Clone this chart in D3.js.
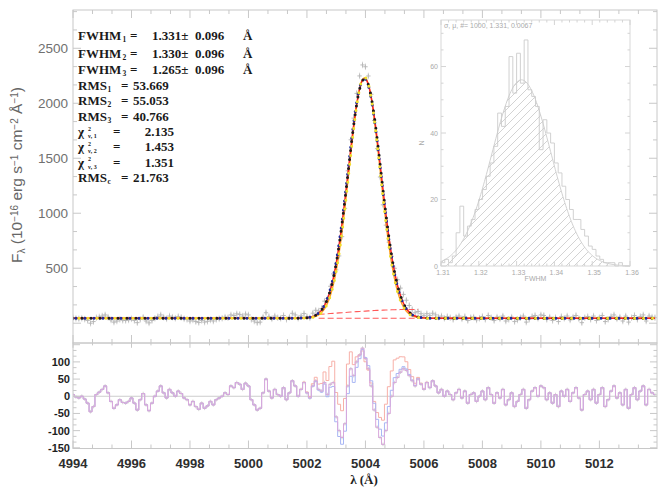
<!DOCTYPE html>
<html><head><meta charset="utf-8">
<script src="https://cdn.jsdelivr.net/npm/d3@7"></script>
<style>body{margin:0;background:#fff}svg{display:block}</style>
</head><body><svg id="c" width="661" height="487"></svg>
<script>
// ---------------- data ----------------
const lambdaStart = 4994.0, lambdaStep = 0.1;   // wavelength sampling (Å)
// residual of fit 1 (data - model 1)
const residual1 = [
 5,-2,-5,0,-8,-20,-45,-30,5,12,
 20,30,10,-15,-35,-25,-10,-18,-20,-15,
 -5,-20,-40,-10,8,-25,-42,-20,0,15,
 30,10,-5,20,10,0,15,8,-5,-10,
 -25,-15,-30,-38,-20,-35,-28,-15,-25,-10,
 -5,0,10,5,30,25,40,35,20,38,
 30,-10,-25,-40,-35,10,50,15,-5,20,
 5,0,25,-10,10,45,30,0,20,40,
 10,-5,30,45,20,15,40,5,35,40,
 -60,-100,-120,-80,30,80,60,100,120,140,
 110,80,30,-40,-90,-120,-140,-100,-50,0,
 40,55,70,80,75,60,45,30,50,35,
 20,40,25,45,30,10,20,0,15,5,
 -10,10,20,-5,15,-20,5,10,-15,0,
 15,-10,25,5,-20,10,-5,20,-25,-10,
 10,-30,-15,5,20,-35,-10,15,25,0,
 30,25,-10,10,-20,5,-30,15,0,20,
 -15,10,25,-5,-40,5,15,-10,20,-20,
 5,25,-30,-10,15,30,-5,10,-25,20,
 -35,5,25,-10,15,30,-25,20,10,5];
// gaussian fit parameters of the three fits
const fitFwhm   = [1.331, 1.330, 1.265];
const fitCenter = [5003.97, 5003.96, 5003.97];
const fitAmp    = [2180, 2180, 2190];
const continuum = 45;
// components drawn dashed
const compAmp = [0, 80], compCenter = [5005.6, 5005.6], compSigma = [2.5, 2.5];
const compRange = [5002.4, 5005.8];
// axis ticks
const xTickLabels = [4994,4996,4998,5000,5002,5004,5006,5008,5010,5012];
const yMainLabels = [500,1000,1500,2000,2500];
const yResLabels  = [-150,-100,-50,0,50,100];
// inset histogram of FWHM (bin 0.001 starting at 1.310)
const histStart = 1.310, histBin = 0.001;
const histCounts = [1,2,1,3,10,18,9,12,14,17,20,23,27,31,36,46,42,48,63,52,64,55,68,53,51,48,35,44,40,37,31,28,24,20,17,14,14,11,9,6,5,3,2,1,1,1,0,1,0,0];
const histFit = {amp: 56, mean: 1.3313, sigma: 0.0078};
const insetXLabels = [1.31,1.32,1.33,1.34,1.35,1.36];
const insetYLabels = [0,20,40,60];
const insetTitle = "σ, μ, #=  1000,  1.331,  0.0067";
// statistics text
const fwhmVals = ["1.331","1.330","1.265"], fwhmErr = ["0.096","0.096","0.096"];
const rmsVals = ["53.669","55.053","40.766"];
const chiVals = ["2.135","1.453","1.351"];
const rmsC = "21.763";

// ---------------- drawing ----------------
const svg = d3.select("#c");
const frameCol = "#c8c8c8";
const L = 73, R = 657, T = 10, MB = 343, RB = 448.5;
const x  = d3.scaleLinear().domain([4994, 5013.97]).range([L, R]);
const yM = d3.scaleLinear().domain([-180, 2848]).range([MB, T]);
const yR = d3.scaleLinear().domain([-152, 155]).range([RB, MB]);

const lam = d3.range(residual1.length).map(i => +(lambdaStart + i*lambdaStep).toFixed(2));
function model(k, l){
  const s = fitFwhm[k]/(2*Math.sqrt(2*Math.LN2));
  return continuum + fitAmp[k]*Math.exp(-0.5*((l-fitCenter[k])/s)**2);
}
const m = [0,1,2].map(k => lam.map(l => model(k,l)));
const obs = lam.map((l,i) => m[0][i] + residual1[i]);
const res = [0,1,2].map(k => obs.map((o,i) => o - m[k][i]));

const defs = svg.append("defs");
defs.append("clipPath").attr("id","cm").append("rect").attr("x",L).attr("y",T).attr("width",R-L).attr("height",MB-T);
defs.append("clipPath").attr("id","cr").append("rect").attr("x",L).attr("y",MB).attr("width",R-L).attr("height",RB-MB);

// ---- inset (drawn first, light grey) ----
const IL=441, IR=630, IT=20, IB=266;
const ix = d3.scaleLinear().domain([1.31,1.36]).range([IL,IR]);
const iy = d3.scaleLinear().domain([0,74]).range([IB,IT]);
const ig = svg.append("g");
const pat = defs.append("pattern").attr("id","hatch").attr("patternUnits","userSpaceOnUse").attr("width",8).attr("height",8);
pat.append("path").attr("d","M-2,2 l4,-4 M0,8 l8,-8 M6,10 l4,-4").attr("stroke","#c8c8c8").attr("stroke-width",0.8);
const gx = d3.range(0,201).map(k => 1.31 + k*0.00025);
const gauss = v => histFit.amp*Math.exp(-0.5*((v-histFit.mean)/histFit.sigma)**2);
ig.append("path").datum(gx).attr("d", d3.area().x(d=>ix(d)).y0(iy(0)).y1(d=>iy(gauss(d))))
  .attr("fill","url(#hatch)");
ig.append("path").datum(gx).attr("d", d3.line().x(d=>ix(d)).y(d=>iy(gauss(d))))
  .attr("fill","none").attr("stroke","#cccccc").attr("stroke-width",0.9);
let hp = `M${ix(histStart)},${iy(0)}`;
histCounts.forEach((c,i)=>{ hp += `V${iy(c)}H${ix(histStart+(i+1)*histBin)}`; });
hp += `V${iy(0)}`;
ig.append("path").attr("d",hp).attr("fill","none").attr("stroke","#cccccc").attr("stroke-width",0.9);
ig.append("rect").attr("x",IL).attr("y",IT).attr("width",IR-IL).attr("height",IB-IT).attr("fill","none").attr("stroke","#d8d8d8");
d3.range(0,26).map(k=>1.31+k*0.002).forEach((v,k)=>{
  const len = k%5===0?5:2.5;
  ig.append("line").attr("x1",ix(v)).attr("x2",ix(v)).attr("y1",IB).attr("y2",IB-len).attr("stroke","#d4d4d4");
  ig.append("line").attr("x1",ix(v)).attr("x2",ix(v)).attr("y1",IT).attr("y2",IT+len).attr("stroke","#d4d4d4");
});
d3.range(0,15).map(k=>k*5).forEach((v,k)=>{
  const len = k%4===0?5:2.5;
  ig.append("line").attr("y1",iy(v)).attr("y2",iy(v)).attr("x1",IL).attr("x2",IL+len).attr("stroke","#d4d4d4");
  ig.append("line").attr("y1",iy(v)).attr("y2",iy(v)).attr("x1",IR).attr("x2",IR-len).attr("stroke","#d4d4d4");
});
const ifont = {"font-family":"Liberation Sans, sans-serif","font-size":"7px","fill":"#aaaaaa"};
function sty(sel, o){ Object.entries(o).forEach(([k,v])=>sel.attr(k,v)); return sel; }
insetXLabels.forEach(v=>sty(ig.append("text"),ifont).attr("x",ix(v)+2).attr("y",IB+9).attr("text-anchor","middle").text(v.toFixed(2)));
insetYLabels.forEach(v=>sty(ig.append("text"),ifont).attr("x",IL-3).attr("y",iy(v)+2.5).attr("text-anchor","end").text(v));
sty(ig.append("text"),ifont).attr("x",(IL+IR)/2).attr("y",IB+15).attr("text-anchor","middle").text("FWHM");
sty(ig.append("text"),ifont).attr("transform",`translate(424,${(IT+IB)/2}) rotate(-90)`).attr("text-anchor","middle").text("N");
sty(ig.append("text"),ifont).attr("x",IL+3).attr("y",IT+8).text(insetTitle);

// ---- main panel ----
const mg = svg.append("g").attr("clip-path","url(#cm)");
// data points (grey crosses with error bars)
const cross = (g, px, py, s, col) => g.append("path").attr("d",`M${px-s},${py}H${px+s}M${px},${py-s}V${py+s}`).attr("stroke",col).attr("stroke-width",0.8);
lam.forEach((l,i)=>{ cross(mg, x(l), yM(obs[i]), 2.2, "#a9a9a9");
  mg.append("line").attr("x1",x(l)).attr("x2",x(l)).attr("y1",yM(obs[i]-30)).attr("y2",yM(obs[i]+30)).attr("stroke","#bdbdbd").attr("stroke-width",0.6); });
// dashed components
const cl = d3.range(0,35).map(k=>compRange[0]+k*0.1).filter(v=>v<=compRange[1]+1e-9);
[0,1].forEach(j=>{
  mg.append("path").datum(cl).attr("d", d3.line().x(d=>x(d)).y(d=>yM(continuum + compAmp[j]*Math.exp(-0.5*((d-compCenter[j])/compSigma[j])**2))))
   .attr("fill","none").attr("stroke","#ff5a5a").attr("stroke-width",1.1).attr("stroke-dasharray","6,3");
});
const ln = d3.line().x((d,i)=>x(lam[i])).y(d=>yM(d)).curve(d3.curveCatmullRom);
mg.append("path").datum(m[2]).attr("d",ln).attr("fill","none").attr("stroke","#ffa020").attr("stroke-width",1.3);
mg.append("path").datum(m[0]).attr("d",ln).attr("fill","none").attr("stroke","#ff2020").attr("stroke-width",1.5);
// dotted model curves
const dotted = [[m[0],"#1c1c1c",0],[m[1],"#1e2a9a",3],[m[2],"#f0df2a",6]];
dotted.forEach(([d,col,off])=>{
  mg.append("path").datum(d).attr("d",ln).attr("fill","none").attr("stroke",col).attr("stroke-width",3)
    .attr("stroke-linecap","round").attr("stroke-dasharray","0,9").attr("stroke-dashoffset",-off);
});

// ---- residual panel ----
const rg = svg.append("g").attr("clip-path","url(#cr)");
rg.append("line").attr("x1",L).attr("x2",R).attr("y1",yR(0)).attr("y2",yR(0)).attr("stroke","#c0c0c0").attr("stroke-width",0.8);
lam.forEach((l,i)=>{ cross(rg, x(l), yR(res[0][i]), 1.8, "#c8c8c8"); });
const rl = d3.line().x((d,i)=>x(lam[i])).y(d=>yR(d)).curve(d3.curveStep);
rg.append("path").datum(res[2]).attr("d",rl).attr("fill","none").attr("stroke","#f7b0a8").attr("stroke-width",1);
rg.append("path").datum(res[1]).attr("d",rl).attr("fill","none").attr("stroke","#a8b6f4").attr("stroke-width",1);
rg.append("path").datum(res[0]).attr("d",rl).attr("fill","none").attr("stroke","#d9a8dc").attr("stroke-width",1);

// ---- frames and ticks ----
const fg = svg.append("g").attr("stroke",frameCol).attr("stroke-width",1).attr("fill","none");
fg.append("rect").attr("x",L).attr("y",T).attr("width",R-L).attr("height",MB-T);
fg.append("rect").attr("x",L).attr("y",MB).attr("width",R-L).attr("height",RB-MB);
const xMinor = d3.range(0,31).map(k=>4994+k*2/3).filter(v=>v<=5013.97);
xMinor.forEach((v,k)=>{
  const len = k%3===0?8:4;
  [[T,1],[MB,-1],[RB,-1]].forEach(([y0,d])=>fg.append("line").attr("x1",x(v)).attr("x2",x(v)).attr("y1",y0).attr("y2",y0+d*len));
  fg.append("line").attr("x1",x(v)).attr("x2",x(v)).attr("y1",MB).attr("y2",MB+len*0.6);
});
d3.range(0,18).map(k=>k*500/3).forEach((v,k)=>{
  if (yM(v)<T) return;
  const len = k%3===0?8:4;
  fg.append("line").attr("x1",L).attr("x2",L+len).attr("y1",yM(v)).attr("y2",yM(v));
  fg.append("line").attr("x1",R).attr("x2",R-len).attr("y1",yM(v)).attr("y2",yM(v));
});
d3.range(0,19).map(k=>-150+k*50/3).forEach((v,k)=>{
  if (yR(v)<MB) return;
  const len = k%3===0?7:3.5;
  fg.append("line").attr("x1",L).attr("x2",L+len).attr("y1",yR(v)).attr("y2",yR(v));
  fg.append("line").attr("x1",R).attr("x2",R-len).attr("y1",yR(v)).attr("y2",yR(v));
});

// ---- tick labels ----
const sans = "Liberation Sans, Arial, sans-serif";
yMainLabels.forEach(v=>svg.append("text").attr("x",68).attr("y",yM(v)+5).attr("text-anchor","end")
  .attr("font-family",sans).attr("font-size","13.5px").attr("fill","#707070").text(v));
yResLabels.forEach(v=>svg.append("text").attr("x",70).attr("y",yR(v)+4).attr("text-anchor","end")
  .attr("font-family",sans).attr("font-size","11px").attr("font-weight","bold").attr("fill","#1e1e1e").text(v));
xTickLabels.forEach(v=>svg.append("text").attr("x",x(v)).attr("y",467.5).attr("text-anchor","middle")
  .attr("font-family",sans).attr("font-size","13px").attr("font-weight","bold").attr("fill","#2e2e2e").text(v));
svg.append("text").attr("x",364).attr("y",483.5).attr("text-anchor","middle").attr("font-family","Liberation Serif, serif")
  .attr("font-size","13px").attr("font-weight","bold").attr("fill","#1e1e1e").text("λ (Å)");
// y label
const yl = svg.append("text").attr("transform","translate(22,175) rotate(-90)").attr("text-anchor","middle")
  .attr("font-family",sans).attr("font-size","15.5px").attr("fill","#666");
const parts = [["F",0],["λ",1],[" (10",0],["−16",-1],[" erg s",0],["−1",-1],[" cm",0],["−2",-1],[" Å",0],["−1",-1],[")",0]];
parts.forEach(([t,s])=>{ const ts = yl.append("tspan").text(t);
  if(s===1) ts.attr("font-size","10px").attr("baseline-shift","-30%");
  if(s===-1) ts.attr("font-size","10px").attr("baseline-shift","45%"); });

// ---- statistics block ----
const serif = "Liberation Serif, Times New Roman, serif";
const tcol = "#1a1a1a";
function txt(xp, yp, s, size, extra){ const t = svg.append("text").attr("x",xp).attr("y",yp).attr("font-family",serif)
  .attr("font-size",(size||13)+"px").attr("font-weight","bold").attr("fill",tcol).text(s); if(extra) extra(t); return t; }
const fwY = [40, 57.5, 74];
fwhmVals.forEach((v,i)=>{
  txt(78, fwY[i], "FWHM"); txt(122.5, fwY[i]+2, String(i+1), 7.5);
  txt(130, fwY[i], "=");
  txt(152, fwY[i], v + "±"); txt(195, fwY[i], fwhmErr[i]); txt(243, fwY[i], "Å");
});
const rmY = [89.5, 105, 120.5];
rmsVals.forEach((v,i)=>{
  txt(78, rmY[i], "RMS"); txt(107.5, rmY[i]+2, String(i+1), 7.5);
  txt(121, rmY[i], "="); txt(133, rmY[i], v);
});
const chY = [136, 151, 166.5];
chiVals.forEach((v,i)=>{
  txt(78, chY[i], "χ"); txt(88, chY[i]-5.5, "2", 6); txt(88, chY[i]+2, "ν, " + (i+1), 6);
  txt(113, chY[i], "="); txt(174, chY[i], v, 13, t=>t.attr("text-anchor","end"));
});
txt(78, 181.5, "RMS"); txt(107.5, 184, "c", 7.5); txt(121, 181.5, "="); txt(133, 181.5, rmsC);
</script></body></html>
